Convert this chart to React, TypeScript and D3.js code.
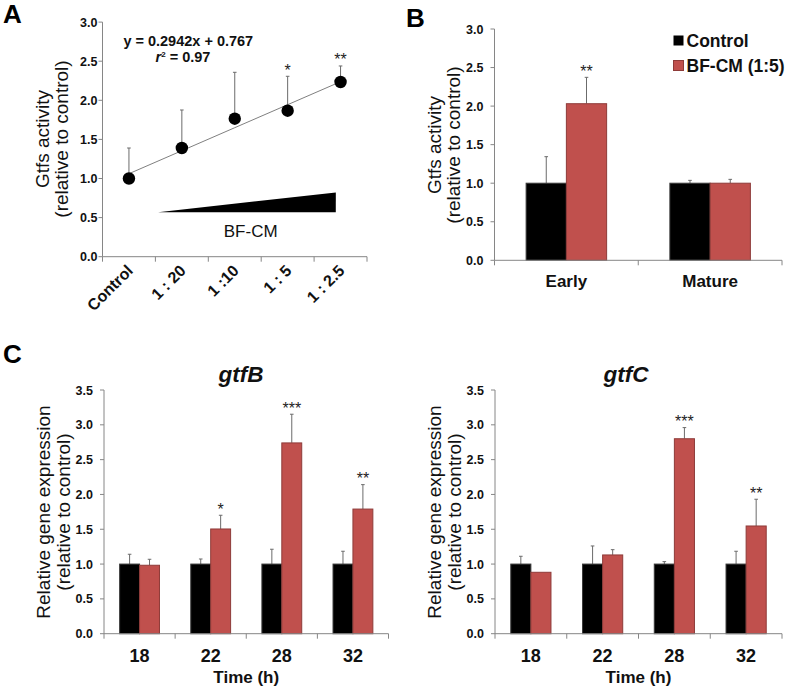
import React from "react";
import * as d3 from "d3";

// ---------- Panel A data ----------
const dilutions = ["Control", "1 : 20", "1 :10", "1 : 5", "1 : 2.5"];
const activityMean = [1.0, 1.39, 1.765, 1.867, 2.234];
const activityErr = [0.39, 0.486, 0.593, 0.44, 0.205];
const activitySig = ["", "", "", "*", "**"];
const regSlope = 0.2942;
const regIntercept = 0.767;
const wedgeSpan = [0.55, 3.91]; // category-index span of the BF-CM wedge
const wedgeLevels = [0.57, 0.82]; // bottom and tall end of wedge (y units)
const activityTicks = [0, 0.5, 1, 1.5, 2, 2.5, 3];

// ---------- Panel B data ----------
const stages = ["Early", "Mature"];
const stageControl = [1.0, 1.0];
const stageControlErr = [0.344, 0.037];
const stageTreated = [2.031, 1.0];
const stageTreatedErr = [0.342, 0.05];
const stageSig = ["**", ""];
const legendLabels = ["Control", "BF-CM (1:5)"];

// ---------- Panel C data ----------
const times = ["18", "22", "28", "32"];
const gtfBControl = [1, 1, 1, 1];
const gtfBControlErr = [0.141, 0.073, 0.213, 0.184];
const gtfBTreated = [0.983, 1.504, 2.74, 1.79];
const gtfBTreatedErr = [0.086, 0.197, 0.412, 0.351];
const gtfBSig = ["", "*", "***", "**"];
const gtfCControl = [1, 1, 1, 1];
const gtfCControlErr = [0.112, 0.26, 0.035, 0.184];
const gtfCTreated = [0.882, 1.131, 2.8, 1.547];
const gtfCTreatedErr = [0, 0.076, 0.16, 0.384];
const gtfCSig = ["", "", "***", "**"];
const exprTicks = [0, 0.5, 1, 1.5, 2, 2.5, 3, 3.5];

const FONT = "'Liberation Sans', Arial, sans-serif";
const AXIS = "#868686";
const ERR = "#6b6b6b";
const RED = "#c0504d";
const RED_STROKE = "#8e3b39";
const fmt = d3.format(".1f");

function YLabel({ axisX, cy, lines }: { axisX: number; cy: number; lines: string[] }) {
  return (
    <g fontFamily={FONT} fontSize={19} fill="#111">
      {lines.map((l, i) => (
        <text key={i} transform={`translate(${axisX - 54 + i * 19.5},${cy}) rotate(-90)`} textAnchor="middle">
          {l}
        </text>
      ))}
    </g>
  );
}

function YAxis({ y, x, ticks, gap }: { y: d3.ScaleLinear<number, number>; x: number; ticks: number[]; gap: number }) {
  const top = y(ticks[ticks.length - 1]);
  const bottom = y(ticks[0]);
  return (
    <g>
      <line x1={x} x2={x} y1={top} y2={bottom} stroke={AXIS} strokeWidth={1} />
      {ticks.map((t) => (
        <g key={t}>
          <line x1={x - 4} x2={x} y1={y(t)} y2={y(t)} stroke={AXIS} />
          <text x={x - 4 - gap} y={y(t)} dy="0.36em" textAnchor="end" fontFamily={FONT} fontWeight="bold" fontSize={12.5} fill="#111">
            {fmt(t)}
          </text>
        </g>
      ))}
    </g>
  );
}

function XAxisBand({ x, yPos, cats }: { x: d3.ScaleBand<string>; yPos: number; cats: string[] }) {
  const [r0, r1] = x.range();
  const bounds = cats.map((c) => x(c) as number).concat([r1]);
  return (
    <g>
      <line x1={r0} x2={r1} y1={yPos} y2={yPos} stroke={AXIS} />
      {bounds.map((b, i) => (
        <line key={i} x1={b} x2={b} y1={yPos} y2={yPos + 5} stroke={AXIS} />
      ))}
    </g>
  );
}

function ErrBar({ cx, y0, y1 }: { cx: number; y0: number; y1: number }) {
  if (Math.abs(y0 - y1) < 0.5) return null;
  return (
    <g stroke={ERR} strokeWidth={1}>
      <line x1={cx} x2={cx} y1={y0} y2={y1} />
      <line x1={cx - 1.8} x2={cx + 1.8} y1={y1} y2={y1} />
    </g>
  );
}

function PanelA() {
  const x = d3.scaleBand<string>().domain(dilutions).range([102.5, 367]);
  const y = d3.scaleLinear().domain([0, 3]).range([256.7, 22.1]);
  const xi = d3.scaleLinear().domain([0, dilutions.length]).range([102.5, 367]);
  const cx = (i: number) => (x(dilutions[i]) as number) + x.bandwidth() / 2;
  const n = dilutions.length;
  const regLine = d3.line<number>()
    .x((i) => cx(i))
    .y((i) => y(regSlope * (i + 1) + regIntercept));
  const wedge = `M${xi(wedgeSpan[0] + 0.5)},${y(wedgeLevels[0])} L${xi(wedgeSpan[1] + 0.5)},${y(wedgeLevels[1])} L${xi(wedgeSpan[1] + 0.5)},${y(wedgeLevels[0])} Z`;
  return (
    <g>
      <text x={3} y={23} fontFamily={FONT} fontWeight="bold" fontSize={26}>A</text>
      <YLabel axisX={102.5} cy={139} lines={["Gtfs activity", "(relative to control)"]} />
      <YAxis y={y} x={102.5} ticks={activityTicks} gap={1} />
      <XAxisBand x={x} yPos={y(0)} cats={dilutions} />
      {dilutions.map((d, i) => (
        <text key={d} transform={`translate(${cx(i) + 5},${y(0) + 15}) rotate(-45)`} textAnchor="end" fontFamily={FONT} fontWeight="bold" fontSize={16} fill="#111">
          {d}
        </text>
      ))}
      <path d={wedge} fill="#000" />
      <text x={250.7} y={236.5} textAnchor="middle" fontFamily={FONT} fontSize={17} fill="#111">BF-CM</text>
      <path d={regLine(d3.range(n)) as string} fill="none" stroke="#808080" strokeWidth={1} />
      {activityMean.map((v, i) => (
        <ErrBar key={"e" + i} cx={cx(i)} y0={y(v)} y1={y(v + activityErr[i])} />
      ))}
      {activityMean.map((v, i) => (
        <circle key={"c" + i} cx={cx(i)} cy={y(v)} r={6.2} fill="#000" />
      ))}
      {activitySig.map((s, i) => s && (
        <text key={"s" + i} x={cx(i)} y={y(activityMean[i] + activityErr[i]) - 0.5} textAnchor="middle" fontFamily={FONT} fontSize={16} fill="#222">{s}</text>
      ))}
      <text x={188.3} y={45.7} textAnchor="middle" fontFamily={FONT} fontWeight="bold" fontSize={14.5} fill="#111">y = 0.2942x + 0.767</text>
      <text x={183} y={61.7} textAnchor="middle" fontFamily={FONT} fontWeight="bold" fontSize={14.5} fill="#111">
        <tspan fontStyle="italic">r</tspan>
        <tspan fontSize={8} dy={-5}>2</tspan>
        <tspan dy={5}> = 0.97</tspan>
      </text>
    </g>
  );
}

type BarProps = {
  x0: number; x1: number; yBottom: number; yTop: number; max: number; ticks: number[];
  cats: string[]; control: number[]; controlErr: number[]; treated: number[]; treatedErr: number[]; sig: string[];
  barFrac: number;
};

function BarChart(p: BarProps) {
  const x = d3.scaleBand<string>().domain(p.cats).range([p.x0, p.x1]);
  const y = d3.scaleLinear().domain([0, p.max]).range([p.yBottom, p.yTop]);
  const bw = x.bandwidth() * p.barFrac;
  const center = (c: string) => (x(c) as number) + x.bandwidth() / 2;
  return (
    <g>
      <YAxis y={y} x={p.x0} ticks={p.ticks} gap={7} />
      {p.cats.map((c, i) => {
        const cc = center(c);
        return (
          <g key={c}>
            <ErrBar cx={cc - bw / 2} y0={y(p.control[i])} y1={y(p.control[i] + p.controlErr[i])} />
            <ErrBar cx={cc + bw / 2} y0={y(p.treated[i])} y1={y(p.treated[i] + p.treatedErr[i])} />
            <rect x={cc - bw} y={y(p.control[i])} width={bw} height={y(0) - y(p.control[i])} fill="#000" stroke="#3a3a3a" strokeWidth={1} />
            <rect x={cc} y={y(p.treated[i])} width={bw} height={y(0) - y(p.treated[i])} fill={RED} stroke={RED_STROKE} strokeWidth={1} />
            {p.sig[i] && (
              <text x={cc + bw / 2} y={y(p.treated[i] + p.treatedErr[i]) - 0.5} textAnchor="middle" fontFamily={FONT} fontSize={16} fill="#222">{p.sig[i]}</text>
            )}
          </g>
        );
      })}
      <XAxisBand x={x} yPos={y(0)} cats={p.cats} />
    </g>
  );
}

function PanelB() {
  const x = d3.scaleBand<string>().domain(stages).range([494.5, 782]);
  return (
    <g>
      <text x={406} y={27} fontFamily={FONT} fontWeight="bold" fontSize={26}>B</text>
      <YLabel axisX={494.5} cy={145} lines={["Gtfs activity", "(relative to control)"]} />
      <BarChart x0={494.5} x1={782} yBottom={260.3} yTop={29} max={3} ticks={activityTicks}
        cats={stages} control={stageControl} controlErr={stageControlErr} treated={stageTreated}
        treatedErr={stageTreatedErr} sig={stageSig} barFrac={0.28} />
      {stages.map((s) => (
        <text key={s} x={(x(s) as number) + x.bandwidth() / 2} y={287} textAnchor="middle" fontFamily={FONT} fontWeight="bold" fontSize={17} fill="#111">{s}</text>
      ))}
      <rect x={673.5} y={35.5} width={10} height={10} fill="#000" />
      <text x={686.5} y={46.5} fontFamily={FONT} fontWeight="bold" fontSize={17.5} fill="#111">{legendLabels[0]}</text>
      <rect x={673.5} y={60.5} width={10} height={10} fill={RED} stroke={RED_STROKE} />
      <text x={686.5} y={71.5} fontFamily={FONT} fontWeight="bold" fontSize={17.5} fill="#111">{legendLabels[1]}</text>
    </g>
  );
}

function PanelC({ x0, x1, title, control, controlErr, treated, treatedErr, sig, titleX }: any) {
  const x = d3.scaleBand<string>().domain(times).range([x0, x1]);
  return (
    <g>
      <text x={titleX} y={382} textAnchor="middle" fontFamily={FONT} fontWeight="bold" fontStyle="italic" fontSize={22.5} fill="#111">{title}</text>
      <YLabel axisX={x0} cy={512} lines={["Relative gene expression", "(relative to control)"]} />
      <BarChart x0={x0} x1={x1} yBottom={633.7} yTop={390} max={3.5} ticks={exprTicks}
        cats={times} control={control} controlErr={controlErr} treated={treated}
        treatedErr={treatedErr} sig={sig} barFrac={0.28} />
      {times.map((t) => (
        <text key={t} x={(x(t) as number) + x.bandwidth() / 2} y={661.5} textAnchor="middle" fontFamily={FONT} fontWeight="bold" fontSize={18} fill="#111">{t}</text>
      ))}
      <text x={(x0 + x1) / 2} y={683} textAnchor="middle" fontFamily={FONT} fontWeight="bold" fontSize={17} fill="#111">Time (h)</text>
    </g>
  );
}

export default function App() {
  return (
    <svg width={787} height={689} style={{ position: "absolute", left: 0, top: 0, background: "#fff" }}>
      <rect width={787} height={689} fill="#fff" />
      <PanelA />
      <PanelB />
      <text x={3} y={363} fontFamily={FONT} fontWeight="bold" fontSize={26}>C</text>
      <PanelC x0={104} x1={388.5} title="gtfB" titleX={241} control={gtfBControl} controlErr={gtfBControlErr}
        treated={gtfBTreated} treatedErr={gtfBTreatedErr} sig={gtfBSig} />
      <PanelC x0={495} x1={782} title="gtfC" titleX={626} control={gtfCControl} controlErr={gtfCControlErr}
        treated={gtfCTreated} treatedErr={gtfCTreatedErr} sig={gtfCSig} />
    </svg>
  );
}
